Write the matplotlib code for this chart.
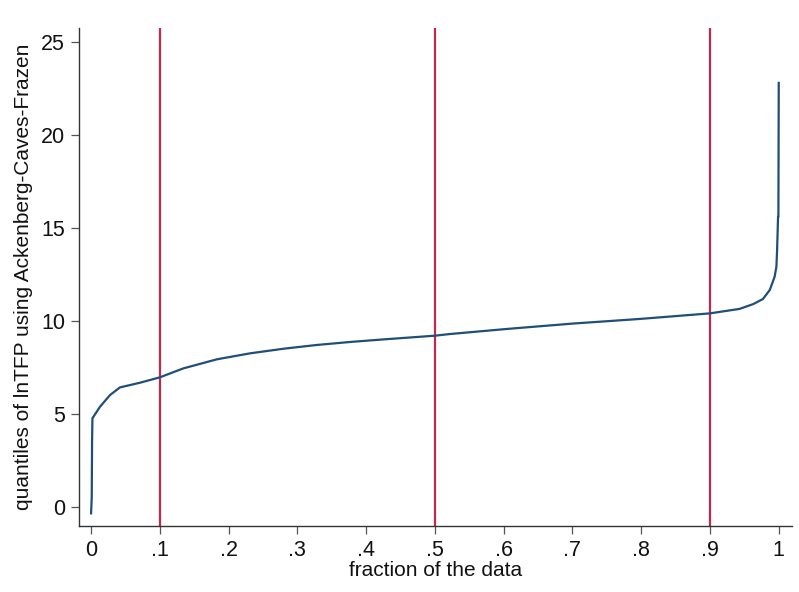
import matplotlib
matplotlib.use("Agg")
import matplotlib.pyplot as plt

plt.rcParams['font.family'] = ['Liberation Sans', 'DejaVu Sans']

# quantile curve
frac = [0.0, 0.001, 0.0015, 0.002, 0.013, 0.0276, 0.042, 0.071, 0.086, 0.1,
        0.134, 0.183, 0.231, 0.28, 0.328, 0.376, 0.425, 0.5, 0.522, 0.604,
        0.70, 0.798, 0.9, 0.943, 0.963, 0.977, 0.987, 0.994, 0.9966, 0.9976,
        0.999, 0.9995, 1.0]
qtfp = [-0.34, 0.5, 3.6, 4.77, 5.39, 6.02, 6.43, 6.68, 6.83, 6.97,
        7.45, 7.94, 8.26, 8.51, 8.71, 8.87, 9.01, 9.21, 9.30, 9.57,
        9.86, 10.11, 10.41, 10.65, 10.91, 11.18, 11.67, 12.38, 12.92, 13.8,
        15.6, 15.6, 22.8]
vlines = [0.1, 0.5, 0.9]
xticks = [0, .1, .2, .3, .4, .5, .6, .7, .8, .9, 1]
xticklabels = ['0', '.1', '.2', '.3', '.4', '.5', '.6', '.7', '.8', '.9', '1']
yticks = [0, 5, 10, 15, 20, 25]

fig = plt.figure(figsize=(7.99, 5.92), dpi=100)
ax = fig.add_axes([0.0989, 0.1115, 0.8921, 0.8412])

for v in vlines:
    ax.axvline(v, color='#c4264f', lw=1.6, zorder=1)
ax.plot(frac, qtfp, color='#1f4e79', lw=1.6, zorder=2)

ax.set_xlim(-0.0175, 1.019)
ax.set_ylim(-1.02, 25.75)
ax.set_xticks(xticks)
ax.set_xticklabels(xticklabels)
ax.set_yticks(yticks)

for s in ['top', 'right']:
    ax.spines[s].set_visible(False)
for s in ['left', 'bottom']:
    ax.spines[s].set_color('#333333')
    ax.spines[s].set_linewidth(1.0)
ax.tick_params(axis='both', length=6, width=0.9, color='#555555',
               labelsize=15.5, pad=4, labelcolor='#111111')

ax.set_xlabel('fraction of the data', fontsize=15, labelpad=0, color='#111111')
ax.set_ylabel('quantiles of lnTFP using Ackenberg-Caves-Frazen', fontsize=15,
              labelpad=6, color='#111111')

fig.savefig('out.png', dpi=100, facecolor='white')
